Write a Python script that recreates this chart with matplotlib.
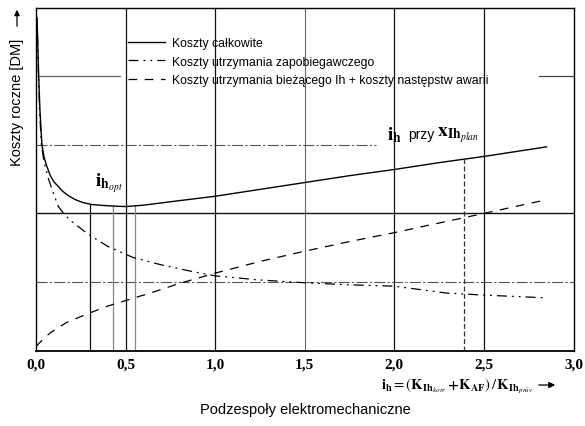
import numpy as np
import matplotlib
matplotlib.use("Agg")
import matplotlib.pyplot as plt
from matplotlib.lines import Line2D

plt.rcParams['mathtext.fontset'] = 'stix'

# ---- data ----
total_x = [0.006, 0.010, 0.015, 0.022, 0.033, 0.045, 0.06, 0.08, 0.10, 0.125, 0.15, 0.18,
           0.22, 0.26, 0.31, 0.38, 0.45, 0.50, 0.60, 0.75, 1.0, 1.25, 1.5, 1.75, 2.0,
           2.25, 2.5, 2.85]
total_y = [4.85, 4.45, 4.0, 3.5, 3.0, 2.82, 2.69, 2.55, 2.46, 2.39, 2.32, 2.26,
           2.20, 2.16, 2.13, 2.115, 2.105, 2.10, 2.12, 2.17, 2.25, 2.35, 2.45, 2.55, 2.64,
           2.74, 2.83, 2.97]

prev_x = [0.008, 0.012, 0.02, 0.03, 0.045, 0.07, 0.10, 0.125, 0.16, 0.20, 0.29, 0.40,
          0.54, 0.70, 0.86, 1.0, 1.25, 1.5, 1.75, 2.0, 2.29, 2.5, 2.85]
prev_y = [4.6, 4.2, 3.5, 3.0, 2.75, 2.50, 2.27, 2.10, 1.98, 1.88, 1.70, 1.52,
          1.36, 1.25, 1.16, 1.09, 1.03, 0.99, 0.96, 0.94, 0.84, 0.81, 0.77]

corr_x = [0.0, 0.04, 0.08, 0.17, 0.29, 0.40, 0.50, 0.65, 0.80, 1.0, 1.25, 1.5, 1.75, 2.0,
          2.25, 2.5, 2.85]
corr_y = [0.06, 0.17, 0.26, 0.41, 0.54, 0.65, 0.73, 0.85, 0.98, 1.13, 1.30, 1.45, 1.59, 1.72,
          1.86, 2.00, 2.20]

marker_x = [0.30, 0.43, 0.55, 2.39]
xtick_vals = [0.0, 0.5, 1.0, 1.5, 2.0, 2.5, 3.0]
xtick_labels = ["0,0", "0,5", "1,0", "1,5", "2,0", "2,5", "3,0"]
legend_labels = ["Koszty całkowite",
                 "Koszty utrzymania zapobiegawczego",
                 "Koszty utrzymania bieżącego Ih + koszty następstw awarii"]

# ---- figure ----
fig = plt.figure(figsize=(5.85, 4.27), dpi=100)
ax = fig.add_axes([36/585, 1-351.7/427, (573.5-36)/585, (351.7-8.5)/427])
ax.set_xlim(0, 3.0)
ax.set_ylim(0, 5)

# grid lines
for xv in [0.5, 1.0, 2.0, 2.5]:
    ax.axvline(xv, color='#111111', lw=0.9, zorder=1)
ax.axvline(1.5, color='#666666', lw=0.8, zorder=1)
ax.axhline(2, color='#111111', lw=1.0, zorder=1)
ax.axhline(1, color='#555555', lw=0.8, ls=(0, (10, 2, 2, 2)), zorder=1)
ax.plot([0, 1.9], [3, 3], color='#555555', lw=0.8, ls=(0, (10, 2, 2, 2)), zorder=1)
ax.plot([0, 0.47], [4, 4], color='#666666', lw=0.9, zorder=1)
ax.plot([2.81, 3.0], [4, 4], color='#444444', lw=0.9, zorder=1)

# marker vertical lines up to the total-cost curve
mcolors = ['#111111', '#888888', '#888888', '#333333']
mstyles = ['-', '-', '-', (0, (4, 2))]
for xv, c, s in zip(marker_x, mcolors, mstyles):
    top = np.interp(xv, total_x, total_y)
    ax.plot([xv, xv], [0, top], color=c, lw=0.9, ls=s, zorder=1)

# curves
ax.plot(total_x, total_y, color='black', lw=1.0, zorder=3)
ax.plot(prev_x, prev_y, color='black', lw=0.9, ls=(0, (8, 4, 1.5, 4, 1.5, 4)), zorder=3)
ax.plot(corr_x, corr_y, color='black', lw=0.9, ls=(0, (7, 6)), zorder=3)

for sp in ax.spines.values():
    sp.set_color('black')
    sp.set_linewidth(1.0)
ax.spines['bottom'].set_linewidth(1.3)

ax.set_yticks([])
ax.set_xticks(xtick_vals)
ax.set_xticklabels(xtick_labels, fontfamily='Liberation Serif', fontweight='bold', fontsize=11)
ax.tick_params(axis='x', length=0, pad=5)

# legend
handles = [Line2D([], [], color='black', lw=1.0),
           Line2D([], [], color='black', lw=0.9, ls=(0, (8, 4, 1.5, 4, 1.5, 4))),
           Line2D([], [], color='black', lw=0.9, ls=(0, (7, 6)))]
leg = ax.legend(handles, legend_labels, loc='upper left',
                bbox_to_anchor=((128-36)/537.5, (351.7-38)/343.2),
                frameon=False, handlelength=3.0, handletextpad=0.6,
                labelspacing=0.55, borderpad=0, borderaxespad=0,
                prop={'family': 'Liberation Sans', 'size': 8.8})

# annotations
ax.text(0.33, 2.45, r'$\mathbf{i}_{\mathbf{h}_{\mathit{opt}}}$', fontsize=14,
        ha='left', va='center')
ax.text(1.96, 3.16, r'$\mathbf{i}_{\mathbf{h}}$', fontsize=14, ha='left', va='center')
ax.text(2.075, 3.15, 'przy', fontsize=10, family='Liberation Sans', ha='left', va='center')
ax.text(2.24, 3.16, r'$\mathbf{x}_{\mathbf{Ih}_{\mathit{plan}}}$', fontsize=14,
        ha='left', va='center')

# axis labels
fig.text(381/585, 1-386/427,
         r'$\mathbf{i}_{\mathbf{h}} = (\mathbf{K}_{\mathbf{Ih}_{korr}}\,\mathbf{+K}_{\mathbf{AF}})\,/\,\mathbf{K}_{\mathbf{Ih}_{pr\ddot{a}v}}$',
         fontsize=10.5, ha='left', va='center')
fig.patches.append(matplotlib.patches.FancyArrowPatch(
    (536/585, 1-386/427), (558/585, 1-386/427), transform=fig.transFigure,
    arrowstyle='-|>', mutation_scale=9, color='black', lw=0.9))

fig.text(305/585, 1-410/427, 'Podzespoły elektromechaniczne', family='Liberation Sans',
         fontsize=10.5, ha='center', va='center')

fig.text(17/585, 1-102/427, 'Koszty roczne [DM]', family='Liberation Sans',
         fontsize=10.5, rotation=90, ha='center', va='center')
fig.patches.append(matplotlib.patches.FancyArrowPatch(
    (17/585, 1-30/427), (17/585, 1-8/427), transform=fig.transFigure,
    arrowstyle='-|>', mutation_scale=8, color='black', lw=0.9))

fig.savefig('out.png', dpi=100)
